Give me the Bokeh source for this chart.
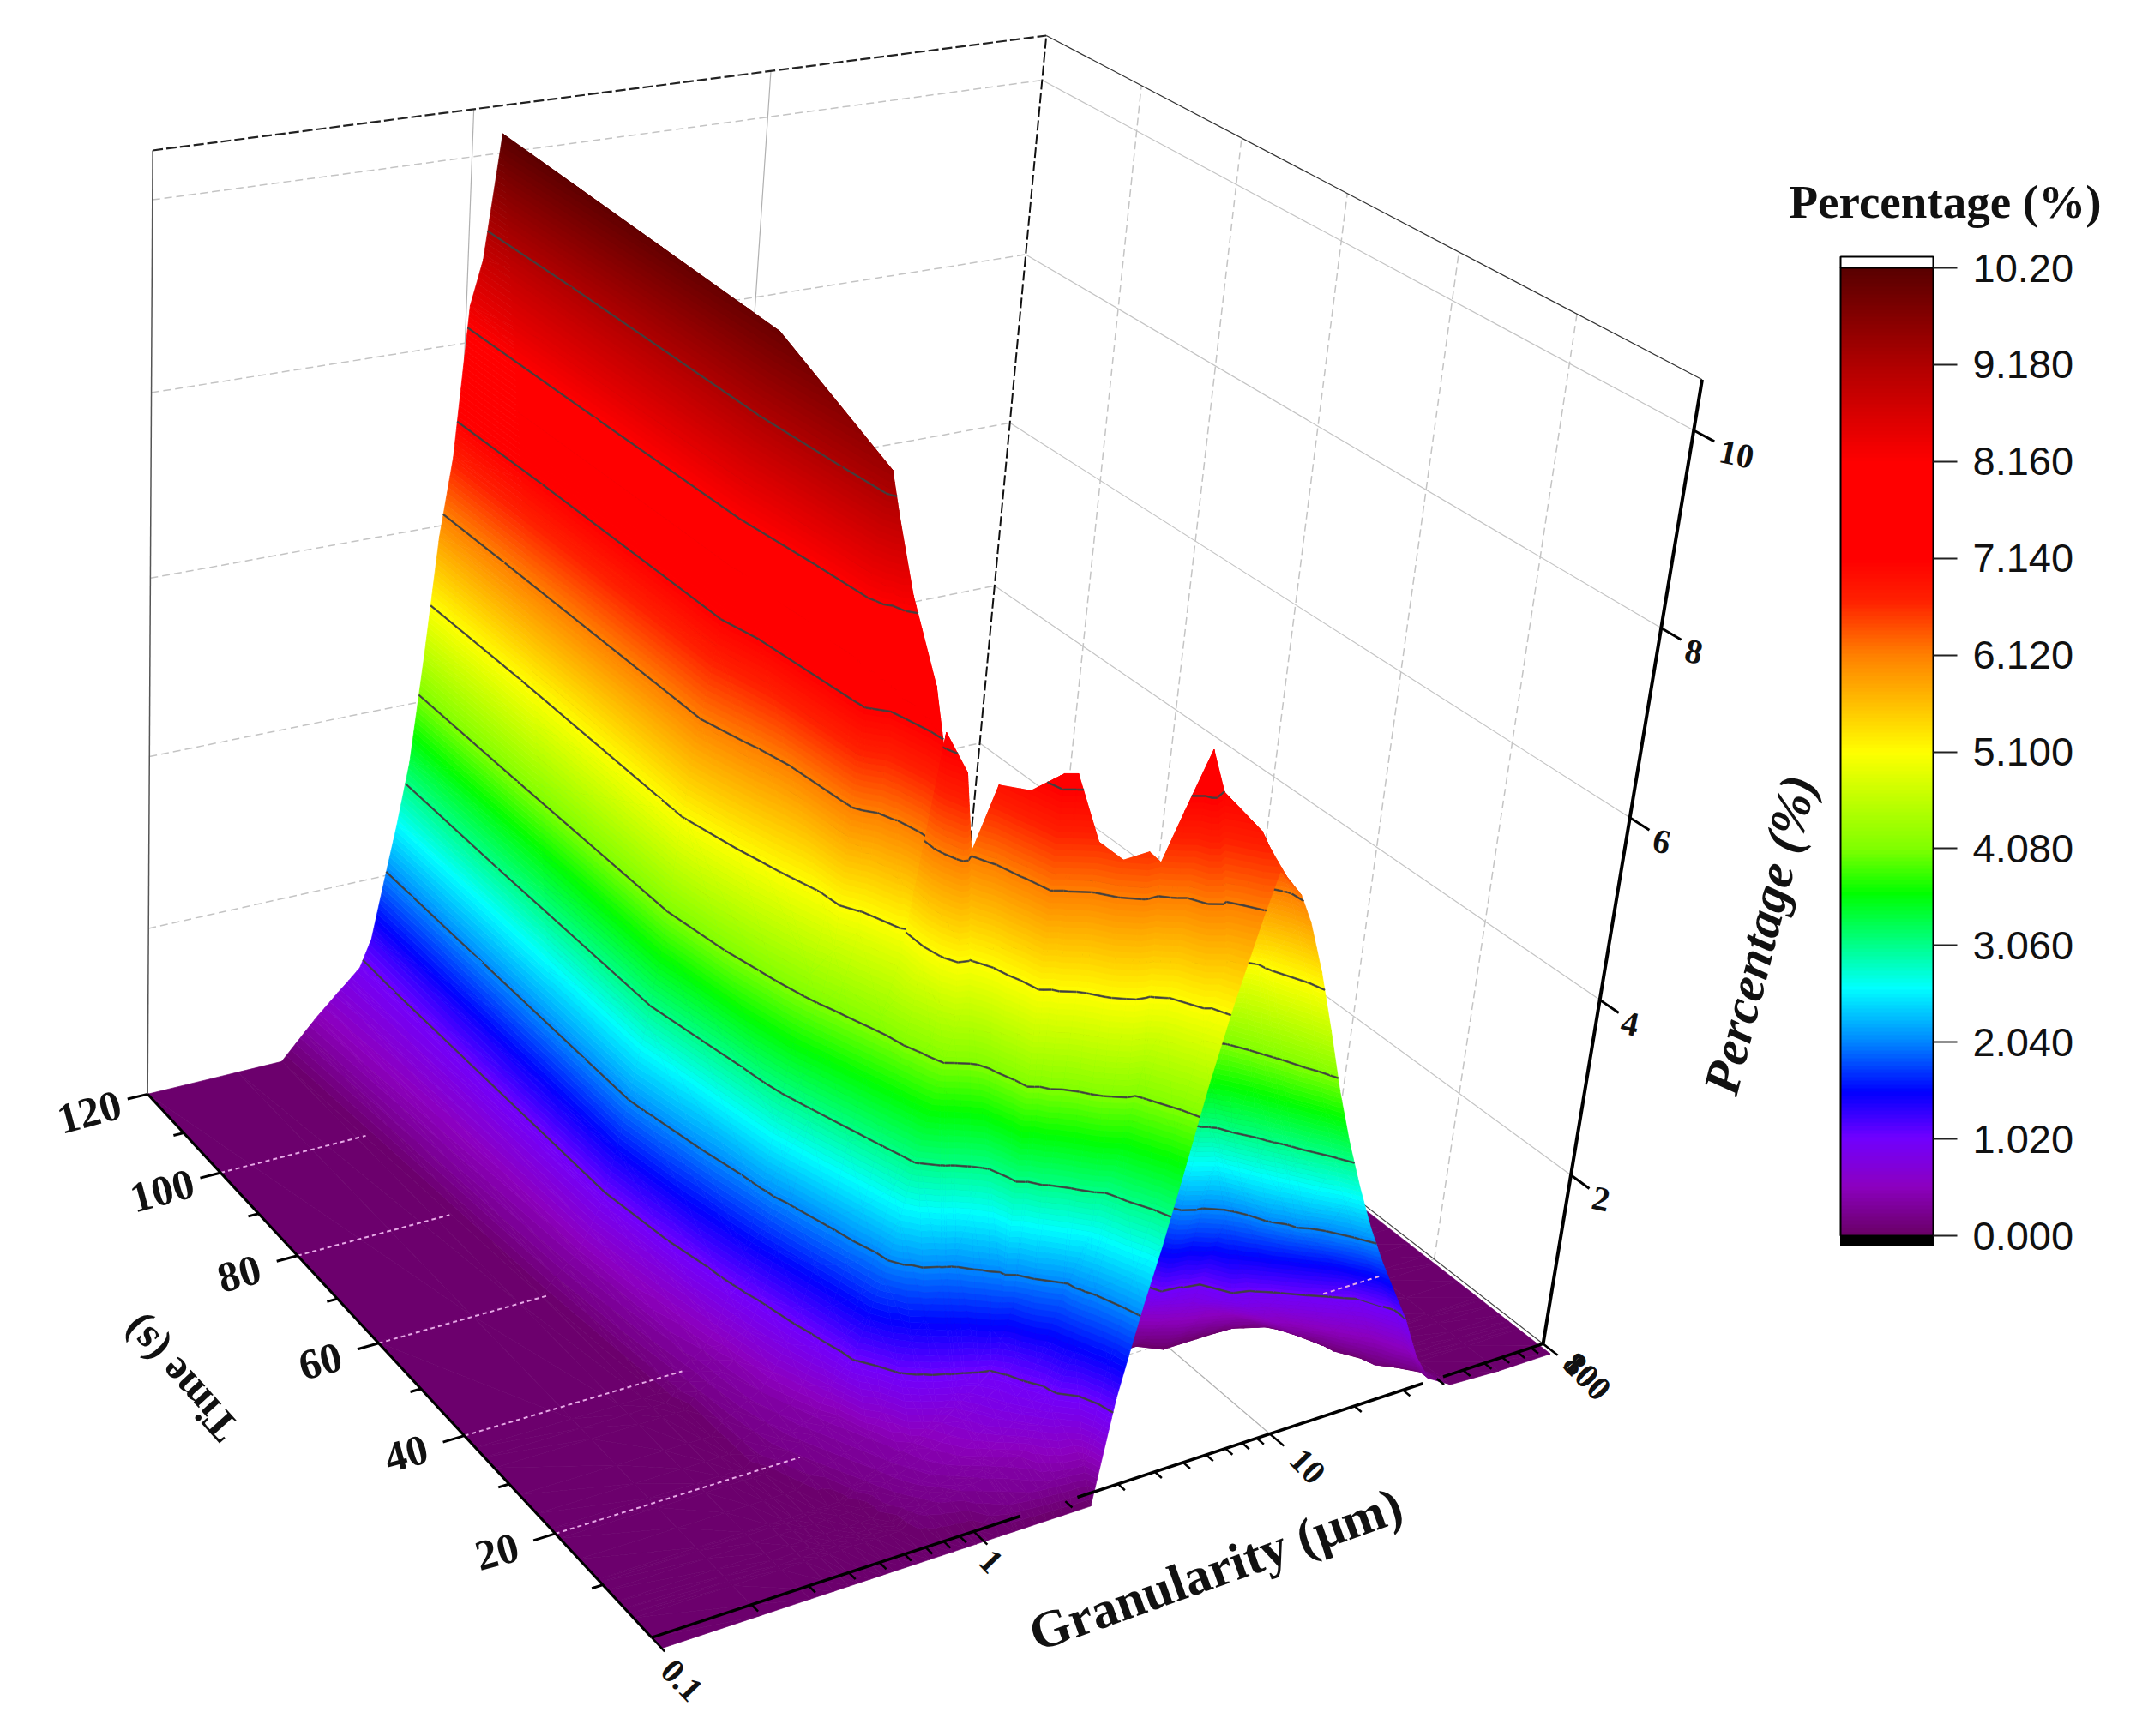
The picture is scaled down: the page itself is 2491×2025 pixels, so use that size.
import numpy as np
from bokeh.plotting import figure
from bokeh.models import Range1d, ColorBar, LinearColorMapper, FixedTicker
from bokeh.core.properties import value
from bokeh.embed import file_html
from bokeh.resources import INLINE

# ---------- data ----------
GRANULARITY_UM = [0.1,0.1995,0.2818,0.335,0.3715,0.398,0.434,0.473,0.516,0.562,0.613,0.668,0.729,0.794,0.866,0.944,1.029,1.122,1.253,1.288,1.361,1.479,1.596,1.698,1.807,1.95,
                  2.239,2.483,2.812,3.097,3.388,3.837,4.315,4.989,5.42,5.888,6.531,7.244,8.318,9.55,10.96,12.59,14.45,16.6,19.05,21.88,25.12,28.84,33.11,40.74,61.66,96.6]
TIME_S = [120,60.3,37.5,35.5,33.3,27.8,24,21,19.1,15,11.1,10.5,9,6.9,5.5,4.5,3.7,0,-2]
P00 = [0,0,0,0.29,0.46,0.56,0.69,0.81,0.94,1.26,1.93,2.57,3.31,4.51,5.87,6.75,8.40,8.88,10.20,9.79,8.98,7.75,6.63,5.71,4.79,3.67, 1.63,0.10]+[0]*24
P01 = [0,0,0,0,0.18,0.27,0.39,0.65,0.93,1.50,2.20,2.87,3.79,5.15,6.09,6.87,7.91,8.94,9.81,10.00,9.20,8.00,6.90,6.00,5.10,4.00, 2.00,0.50]+[0]*24
P02 = [0,0,0,0,0,0.11,0.19,0.28,0.36,0.57,0.91,1.36,1.89,2.75,3.60,4.31,4.93,7.61,9.30,9.40,8.65,7.52,6.49,5.64,4.79,3.76, 1.88,0.47]+[0]*24
P03 = [0,0,0,0,0,0.10,0.18,0.26,0.34,0.49,0.82,1.22,1.75,2.44,3.29,4.04,4.63,7.21,8.70,9.00,8.28,7.20,6.21,5.40,4.59,3.60, 1.80,0.45]+[0]*24
P04 = [0,0,0,0,0,0,0.17,0.25,0.33,0.42,0.73,1.06,1.57,2.10,2.96,3.70,4.35,4.90,6.92,8.17,8.30,7.30,6.39,5.64,4.90,3.98, 2.32,1.08,0.19]+[0]*23
P05 = [0,0,0,0,0,0,0.14,0.21,0.29,0.36,0.53,0.82,1.17,1.63,2.13,2.94,3.62,4.23,4.85,5.01,7.60,6.69,5.85,5.17,4.48,3.65, 2.45,1.01,0.79,0.62,0.46,0.23]+[0]*20
P06 = [0,0,0,0,0,0,0.12,0.18,0.24,0.30,0.36,0.55,0.94,1.37,1.80,2.39,3.14,3.76,4.92,7.30,6.72,5.84,5.05,4.53,4.05,3.75, 3.21,2.74,2.12,0.89,0.75,0.55,0.37,0.14]+[0]*18
P07 = [0,0,0,0,0,0,0.11,0.16,0.21,0.26,0.32,0.37,0.64,1.18,1.60,2.01,2.73,3.39,4.22,4.57,7.00,6.16,5.58,5.12,4.89,4.63, 4.15,3.76,3.29,2.88,2.44,0.95,0.77,0.55,0.42,0.29,0.13]+[0]*15
P08 = [0,0,0,0,0,0,0,0.13,0.18,0.23,0.28,0.34,0.39,1.07,1.48,1.88,2.47,3.17,3.91,4.10,4.37,4.79,6.90,6.28,5.93,5.61, 5.05,4.72,4.32,4.00,3.66,3.20,2.65,0.99,0.86,0.73,0.58,0.42,0.21]+[0]*13
P09 = [0,0,0,0,0,0,0,0,0.11,0.16,0.21,0.26,0.32,0.37,0.61,1.09,1.32,1.55,1.85,1.93,2.13,2.65,3.23,6.99,6.68,6.15, 5.80,5.55,5.25,5.00,4.75,4.40,4.06,3.52,3.20,2.83,2.28,0.98,0.87,0.75,0.64,0.52,0.41,0.29,0.17,0.06]+[0]*6
P10 = [0,0,0,0,0,0,0,0,0,0,0.14,0.19,0.24,0.30,0.35,0.41,0.53,0.65,0.81,0.84,0.92,1.09,1.47,1.79,7.30,6.91, 6.21,5.96,5.73,5.55,5.39,5.16,4.88,4.52,4.31,4.10,3.68,3.25,2.64,1.93,0.95,0.80,0.64,0.48,0.32,0.17,0.03]+[0]*5
P11 = [0,0,0,0,0,0,0,0,0,0,0.13,0.18,0.23,0.29,0.34,0.39,0.49,0.59,0.72,0.76,0.82,0.92,1.01,1.34,1.69,7.30, 6.63,6.13,5.90,5.73,5.57,5.35,5.14,4.80,4.59,4.39,4.13,3.54,2.75,2.10,1.38,0.93,0.75,0.57,0.38,0.20,0.05]+[0]*5
P12 = [0,0,0,0,0,0,0,0,0,0,0,0.15,0.21,0.26,0.31,0.37,0.43,0.53,0.65,0.68,0.74,0.83,0.91,0.98,1.23,1.92, 6.63,6.28,6.00,5.84,5.70,5.50,5.31,5.06,4.86,4.65,4.39,4.14,3.07,2.38,1.80,1.31,0.94,0.72,0.50,0.29,0.07]+[0]*5
P13 = [0,0,0,0,0,0,0,0,0,0,0,0.11,0.16,0.21,0.26,0.31,0.36,0.41,0.54,0.57,0.64,0.74,0.82,0.90,0.97,1.19, 1.89,6.50,6.34,6.21,6.09,5.92,5.75,5.55,5.43,5.31,5.16,4.71,3.75,2.82,2.09,1.72,1.37,1.02,0.74,0.47,0.20,0.03]+[0]*4
P14 = [0,0,0,0,0,0,0,0,0,0,0,0,0.13,0.17,0.21,0.25,0.29,0.33,0.39,0.40,0.48,0.60,0.71,0.80,0.89,1.01, 1.72,2.63,6.60,6.46,6.33,6.15,5.96,5.72,5.59,5.45,5.28,5.11,4.08,3.17,2.44,1.91,1.60,1.30,0.99,0.66,0.33,0.06]+[0]*4
P15 = [0,0,0,0,0,0,0,0,0,0,0,0,0.11,0.15,0.19,0.22,0.26,0.29,0.34,0.35,0.38,0.45,0.58,0.70,0.81,0.95, 1.58,2.30,3.57,4.42,7.00,6.69,6.41,6.05,5.86,5.66,5.42,5.18,4.32,3.43,2.69,2.03,1.75,1.46,1.18,0.85,0.46,0.08,0.01]+[0]*3
P16 = [0,0,0,0,0,0,0,0,0,0,0,0,0.10,0.14,0.17,0.20,0.24,0.27,0.31,0.32,0.34,0.38,0.43,0.57,0.71,0.88, 1.45,2.09,3.34,4.15,4.85,7.60,7.14,6.58,6.25,5.96,5.62,5.27,4.50,3.62,2.86,2.23,1.85,1.58,1.30,1.03,0.60,0.16,0.03]+[0]*3
P17 = [0]*17+[0.12,0.17,0.18,0.20,0.23,0.26,0.28,0.30,0.33, 0.38,1.45,2.40,3.12,3.85,4.82,5.57,6.85,6.64,6.43,6.16,5.73,5.12,4.33,3.63,2.99,2.47,1.98,1.66,1.34,1.02,0.53,0.20,0.03]+[0]*2
P18 = [0]*26+[0,1.17,2.12,2.76,3.44,4.42,5.22,6.07,6.50,6.36,6.19,5.87,5.30,4.63,3.93,3.31,2.76,2.25,1.81,1.41,1.02,0.53,0.20,0.03]+[0]*2
PERCENT = [P00,P01,P02,P03,P04,P05,P06,P07,P08,P09,P10,P11,P12,P13,P14,P15,P16,P17,P18]
COLORBAR_TICK_LABELS = ["0.000","1.020","2.040","3.060","4.080","5.100","6.120","7.140","8.160","9.180","10.20"]
TIME_TICKS = [120,100,80,60,40,20]
GRAN_TICKS = [0.1,1,10,100]
PERC_TICKS = [2,4,6,8,10]
COLOR_LOW, COLOR_HIGH = 0.0, 10.2

# ---------- camera of the 3D box, from its corners and ticks ----------
W,H=2475,2009
cal=[(0,0,0,755,1905),(1/3,0,0,1138,1782),(2/3,0,0,1477,1672),(1,0,0,1801,1567),(0,120,0,172,1274),(0,100,0,253,1366),(0,80,0,349,1465),(0,60,0,442,1570),(0,40,0,542,1680),(0,20,0,650,1794),
(0,120,2,173,1077),(0,120,4,174,878),(0,120,6,175,675),(0,120,8,176,457),(0,120,10,177,235),(0,120,10.5,177,177),
(1,0,2,1830,1369),(1,0,4,1865,1165),(1,0,6,1900,954),(1,0,8,1937,735),(1,0,10,1975,500),(1,0,10.5,1985,440),(1,120,10.5,1220,40),(1,120,2,1142,870)]
A=[]
for u,t,z,X,Y in cal:
    t/=100; z/=10; X/=1000; Y/=1000
    A.append([u,t,z,1,0,0,0,0,-X*u,-X*t,-X*z,-X]); A.append([0,0,0,0,u,t,z,1,-Y*u,-Y*t,-Y*z,-Y])
_,_,Vt=np.linalg.svd(np.array(A)); Q=Vt[-1].reshape(3,4)
if Q[2,3]<0: Q=-Q
def proj(u,t,z):
    u=np.asarray(u,float);t=np.asarray(t,float)/100;z=np.asarray(z,float)/10
    s=Q[2,0]*u+Q[2,1]*t+Q[2,2]*z+Q[2,3]
    return 1000*(Q[0,0]*u+Q[0,1]*t+Q[0,2]*z+Q[0,3])/s,1000*(Q[1,0]*u+Q[1,1]*t+Q[1,2]*z+Q[1,3])/s
def ux(x): return np.log10(np.asarray(x,float)/0.1)/3

U=ux(GRANULARITY_UM); Z=np.array(PERCENT,float); TIME=TIME_S
assert Z.shape==(len(TIME),len(U))

stops=[(0,"#6a0068"),(.5,"#8c00c0"),(1.02,"#7000ff"),(1.5,"#0000ff"),(2.04,"#0088ff"),(2.6,"#00ffff"),(3.06,"#00ff88"),(3.6,"#00ff00"),(4.08,"#80ff00"),(5.1,"#ffff00"),(5.6,"#ffc000"),(6.12,"#ff8000"),(6.7,"#ff2000"),(7.14,"#ff0000"),(8.16,"#ff0000"),(9.18,"#b00000"),(10.2,"#5a0000")]
sz=[s[0] for s in stops];rgb=np.array([[int(s[1][k:k+2],16) for k in (1,3,5)] for s in stops])
def cmap(z):
    return "#%02x%02x%02x"%tuple(int(round(np.interp(z,sz,rgb[:,k]))) for k in range(3))
palette=[cmap(COLOR_HIGH*i/255) for i in range(256)]
BW=.06
CL=[1.02*k+.003 for k in range(1,11)]
def clip(poly,a,keep_above):
    out=[]
    n=len(poly)
    for i in range(n):
        p=poly[i];q=poly[(i+1)%n]
        pi=(p[2]>=a) if keep_above else (p[2]<=a)
        qi=(q[2]>=a) if keep_above else (q[2]<=a)
        if pi: out.append(p)
        if pi!=qi:
            f=(a-p[2])/(q[2]-p[2]);out.append((p[0]+f*(q[0]-p[0]),p[1]+f*(q[1]-p[1]),a))
    return out
xs=[];ys=[];cols=[]
def tri(v):
    zz=[p[2] for p in v];lo,hi=min(zz),max(zz)
    k0=int(lo//BW);k1=int(hi//BW)
    for k in range(k0,k1+1):
        a,b=k*BW,(k+1)*BW
        poly=clip(clip(v,a,True),b,False) if k1>k0 else v
        if len(poly)<3: continue
        X,Y=proj([p[0] for p in poly],[p[1] for p in poly],[p[2] for p in poly])
        xs.append(X.tolist());ys.append(Y.tolist());cols.append(cmap((a+b)/2))
    for lv in CL:
        if lo<lv<hi:
            pts=[]
            for i in range(3):
                p,q=v[i],v[(i+1)%3]
                if (p[2]-lv)*(q[2]-lv)<0:
                    f=(lv-p[2])/(q[2]-p[2]);pts.append((p[0]+f*(q[0]-p[0]),p[1]+f*(q[1]-p[1]),lv))
            if len(pts)==2:
                X,Y=proj([p[0] for p in pts],[p[1] for p in pts],[lv,lv])
                dx,dy=X[1]-X[0],Y[1]-Y[0];L=np.hypot(dx,dy)+1e-6;nx,ny=-dy/L*.8,dx/L*.8
                xs.append([X[0]-nx,X[1]-nx,X[1]+nx,X[0]+nx]);ys.append([Y[0]-ny,Y[1]-ny,Y[1]+ny,Y[0]+ny]);cols.append("#404040")
for i in range(len(TIME)-1):
    for j in range(len(U)-2,-1,-1):
        t1,t0=TIME[i],TIME[i+1];u0,u1=U[j],U[j+1]
        a=(u1,t1,Z[i,j+1]);b=(u0,t1,Z[i,j]);c=(u1,t0,Z[i+1,j+1]);d=(u0,t0,Z[i+1,j])
        tri([a,b,c]);tri([b,d,c])
p=figure(width=W,height=H,x_range=Range1d(0,W),y_range=Range1d(H,0),output_backend="svg",toolbar_location=None,min_border=0)
p.axis.visible=False;p.grid.visible=False;p.outline_line_color=None
def line3(pts,**kw):
    X,Y=proj([a[0] for a in pts],[a[1] for a in pts],[a[2] for a in pts]);p.line(X,Y,**kw)
TOP=10.5
GREY="#c4c4c4"
for z in PERC_TICKS:
    line3([(0,120,z),(1,120,z)],line_color=GREY,line_width=1.5,line_dash="9 5")
    line3([(1,120,z),(1,0,z)],line_color=GREY,line_width=1.2)
for u in (1/3,2/3):
    line3([(u,120,0),(u,120,TOP)],line_color="#b0b0b0",line_width=1.2)
    line3([(u,120,0),(u,0,0)],line_color="#b0b0b0",line_width=1.2)
for t in TIME_TICKS[1:]:
    line3([(1,t,0),(1,t,TOP)],line_color=GREY,line_width=1.5,line_dash="9 5")
    line3([(0,t,0),(1,t,0)],line_color=GREY,line_width=1.2,line_dash="6 4")
line3([(0,120,0),(0,120,TOP)],line_color="#555555",line_width=1.5)
line3([(0,120,TOP),(1,120,TOP)],line_color="#222222",line_width=2.2,line_dash="12 4")
line3([(1,120,TOP),(1,0,TOP)],line_color="#333333",line_width=1.2)
line3([(1,120,0),(1,120,TOP)],line_color="#111111",line_width=2,line_dash="12 4")
line3([(1,120,0),(1,0,0)],line_color="#444444",line_width=1.2)
p.patches(xs,ys,fill_color=cols,line_color=cols,line_width=.7)
for t,e in zip(TIME_TICKS[1:],(.16,.165,.18,.23,.255)):
    line3([(0,t,0),(e,t,0)],line_color="#e6a8e6",line_width=2,line_dash="5 4")
line3([(.86,20,0),(.93,20,0)],line_color="#e6a8e6",line_width=2,line_dash="5 4")
for a,b in ((0,.384),(.447,.85),(.875,1)):
    line3([(a,0,0),(b,0,0)],line_color="black",line_width=3.5)
line3([(0,0,0),(0,120,0)],line_color="black",line_width=3)
line3([(1,0,0),(1,0,TOP)],line_color="black",line_width=4)
for t in range(10,121,10):
    m=t%20==0;d=-.022 if m else -.011
    line3([(0,t,0),(d,t,0)],line_color="black",line_width=3)
for dec in (.1,1,10):
    for k in range(1,10):
        u=ux(dec*k)
        line3([(u,0,0),(u,-2.6 if k==1 else -1.3,0)],line_color="black",line_width=2.5)
line3([(1,0,0),(1,-2.6,0)],line_color="black",line_width=2.5)
for z in PERC_TICKS:
    line3([(1,0,z),(1,-3.2,z)],line_color="black",line_width=3)
def txt(x,y,s,size,angle=0,font="Liberation Serif",style="bold",align="center"):
    p.text([x],[y],text=[s],text_font=value(font),text_font_size=value("%dpx"%size),text_font_style=value(style),angle=[np.radians(angle)],text_align=align,text_baseline="middle",text_color="#111111")
for t in TIME_TICKS:
    X,Y=proj(0,t,0);txt(X-68,Y+21,str(t),50,15)
for x,s,dx,dy in ((GRAN_TICKS[0],"0.1",35,50),(GRAN_TICKS[1],"1",20,35),(GRAN_TICKS[2],"10",44,38),(GRAN_TICKS[3],"100",51,38),(GRAN_TICKS[3],"800",51,38)):
    X,Y=proj(ux(x),0,0);txt(X+dx,Y+dy,s,40,-46)
for z,dx in zip(PERC_TICKS,(35,35,37,38,50)):
    X,Y=proj(1,0,z);txt(X+dx,Y+28,str(z),40,-12)
txt(209,1608,"Time (s)",50,132)
txt(1417,1830,"Granularity (µm)",61,19.7)
txt(2052,1090,"Percentage (%)",60,75.8,style="bold italic")
txt(2268,235,"Percentage (%)",55)
mapper=LinearColorMapper(palette=palette,low=COLOR_LOW,high=COLOR_HIGH)
ticks=[1.02*k for k in range(11)]
cb=ColorBar(color_mapper=mapper,location=(2146,H-1441),width=108,height=1129,padding=0,margin=0,ticker=FixedTicker(ticks=ticks),
 major_label_overrides={t:l for t,l in zip(ticks,COLORBAR_TICK_LABELS)},
 major_label_text_font="Liberation Sans",major_label_text_font_size="47px",major_label_text_color="#111111",major_tick_in=0,major_tick_out=28,major_tick_line_color="#222222",major_tick_line_width=2,minor_tick_line_color=None,
 label_standoff=18,bar_line_color="black",bar_line_width=2,title=None,background_fill_alpha=0,border_line_color=None)
p.add_layout(cb)
p.quad(left=[2146],right=[2254],top=[299],bottom=[312],fill_color="white",line_color="black",line_width=2)
p.quad(left=[2146],right=[2254],top=[1441],bottom=[1453],fill_color="black",line_color="black")
open("out.html","w").write(file_html(p,INLINE))
